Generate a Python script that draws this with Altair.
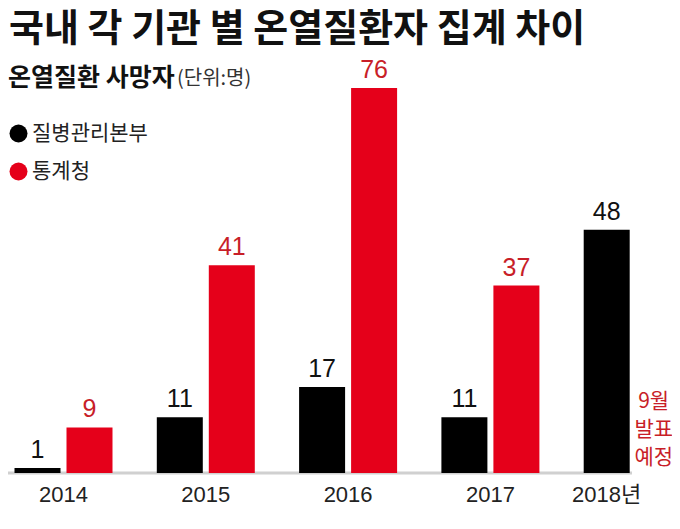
import altair as alt
import pandas as pd

# ---- data ----
years = ["2014", "2015", "2016", "2017", "2018"]
year_labels = ["2014", "2015", "2016", "2017", "2018년"]
agency_names = ["질병관리본부", "통계청"]
kcdc_deaths = [1, 11, 17, 11, 48]
kostat_deaths = [9, 41, 76, 37, None]
pending_note = "9월\n발표\n예정"
title_text = "국내 각 기관 별 온열질환자 집계 차이"
subtitle_main = "온열질환 사망자"
subtitle_unit = "(단위:명)"

rows = []
for yr, a, b in zip(years, kcdc_deaths, kostat_deaths):
    rows.append({"year": yr, "agency": agency_names[0], "value": a})
    if b is not None:
        rows.append({"year": yr, "agency": agency_names[1], "value": b})
df = pd.DataFrame(rows)

lab_df = pd.DataFrame({"year": years, "label": year_labels})
lab_center = lab_df[lab_df["year"] != "2018"]
lab_2018 = lab_df[lab_df["year"] == "2018"].assign(agency=agency_names[0])
note_df = pd.DataFrame({"year": ["2018"], "agency": [agency_names[1]], "note": [pending_note]})

NUM_FONT = "Liberation Sans, Arial, Noto Sans CJK KR, sans-serif"
KR_FONT = "Noto Sans CJK KR, sans-serif"
BLACK = "#000000"
RED = "#e5001a"
RED_TEXT = "#c81e28"

Y_SCALE = alt.Scale(domain=[0, 91.8], range=[465, 0], nice=False, zero=True)

x_enc = alt.X("year:N",
              scale=alt.Scale(domain=years, range=[-15.65, 695.85],
                              paddingInner=0, paddingOuter=0),
              axis=None)
xo_enc = alt.XOffset("agency:N",
                     scale=alt.Scale(domain=agency_names,
                                     paddingInner=0.1154, paddingOuter=0.426))
y_enc = alt.Y("value:Q", scale=Y_SCALE, axis=None)

base = alt.Chart(df).transform_filter(alt.datum.year == "2014").transform_filter(
    alt.datum.agency == agency_names[0]).transform_calculate(value="0")
baseline = base.mark_rule(color="#b0b0b0", strokeWidth=3, opacity=0.6).encode(
    y=y_enc, x=alt.value(0), x2=alt.value(624)
)

bars = alt.Chart(df).mark_bar().encode(
    x=x_enc, xOffset=xo_enc, y=y_enc,
    color=alt.Color("agency:N",
                    scale=alt.Scale(domain=agency_names, range=[BLACK, RED]),
                    legend=alt.Legend(title=None, orient="none", legendX=0, legendY=115,
                                      symbolType="circle", symbolSize=324,
                                      symbolStrokeWidth=0, symbolOpacity=1,
                                      labelFont=KR_FONT, labelFontSize=21,
                                      labelColor="#222222", rowPadding=16,
                                      labelOffset=3, padding=0, direction="vertical"))
)

vals_black = alt.Chart(df).transform_filter(
    alt.datum.agency == agency_names[0]
).mark_text(baseline="bottom", dy=-5, fontSize=25, font=NUM_FONT, color="#111111").encode(
    x=x_enc, xOffset=xo_enc, y=y_enc, text="value:Q"
)
vals_red = alt.Chart(df).transform_filter(
    alt.datum.agency == agency_names[1]
).mark_text(baseline="bottom", dy=-5, fontSize=25, font=NUM_FONT, fontWeight=500,
            color=RED_TEXT).encode(
    x=x_enc, xOffset=xo_enc, y=y_enc, text="value:Q"
)

year_text = alt.Chart(lab_center).mark_text(
    baseline="middle", fontSize=22, font=NUM_FONT, color="#222222"
).encode(x=x_enc, y=alt.value(487), text="label:N")

year_text_2018 = alt.Chart(lab_2018).mark_text(
    baseline="middle", fontSize=22, font=NUM_FONT, color="#222222"
).encode(x=x_enc, xOffset=xo_enc, y=alt.value(487), text="label:N")

note_text = alt.Chart(note_df).mark_text(
    baseline="top", align="center", dx=-5, fontSize=21, lineHeight=28,
    lineBreak="\n", font=KR_FONT, color=RED_TEXT
).encode(x=x_enc, xOffset=xo_enc, y=alt.value(383), text="note:N")

title = alt.Chart(pd.DataFrame({"t": [title_text]})).mark_text(
    align="left", baseline="middle", fontSize=38, fontWeight="bold", font=KR_FONT,
    color="#111111"
).encode(x=alt.value(1), y=alt.value(22), text="t:N")

sub1 = alt.Chart(pd.DataFrame({"t": [subtitle_main]})).mark_text(
    align="left", baseline="middle", fontSize=25, fontWeight="bold", font=KR_FONT,
    color="#111111"
).encode(x=alt.value(0), y=alt.value(70), text="t:N")

sub2 = alt.Chart(pd.DataFrame({"t": [subtitle_unit]})).mark_text(
    align="left", baseline="middle", fontSize=20, font=KR_FONT, color="#333333"
).encode(x=alt.value(169), y=alt.value(71), text="t:N")

chart = alt.layer(
    baseline, bars, vals_black, vals_red, year_text, year_text_2018, note_text,
    title, sub1, sub2
).properties(
    width=664, height=513,
    autosize=alt.AutoSizeParams(type="none"), padding=0,
    background="white"
).configure_view(stroke=None)

chart.save("out.html", embed_options={"renderer": "svg", "actions": False})
